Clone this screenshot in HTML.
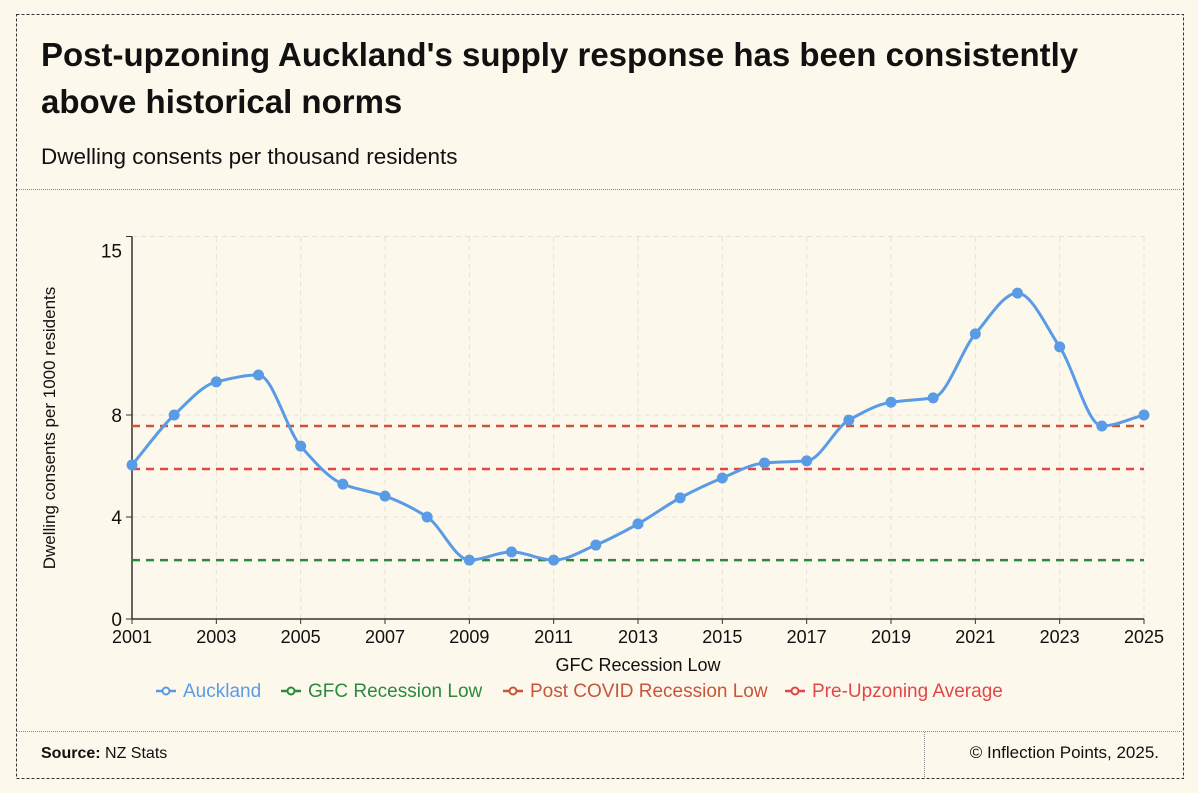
<!DOCTYPE html>
<html><head><meta charset="utf-8"><style>
body{margin:0;background:#fdf8ec;width:1198px;height:793px;overflow:hidden;font-family:"Liberation Sans",sans-serif}
svg{position:absolute;left:0;top:0}
</style></head><body>
<svg id="c" width="1198" height="793"></svg>
<script>
const years=[2001,2002,2003,2004,2005,2006,2007,2008,2009,2010,2011,2012,2013,2014,2015,2016,2017,2018,2019,2020,2021,2022,2023,2024,2025];
const auckland=[6.04,8.0,9.3,9.57,6.78,5.29,4.82,4.0,2.31,2.63,2.31,2.9,3.73,4.75,5.53,6.12,6.2,7.8,8.5,8.67,11.18,12.78,10.67,7.57,8.0];
const yTicks=[0,4,8,15];
const xTickYears=[2001,2003,2005,2007,2009,2011,2013,2015,2017,2019,2021,2023,2025];
const refNames=["GFC Recession Low","Post COVID Recession Low","Pre-Upzoning Average"];
const refValues=[2.31,7.57,5.88];
const refColors=["#2a8a3e","#c8553a","#e04848"];

const NS="http://www.w3.org/2000/svg",svg=document.getElementById('c');
function el(t,a,p){const e=document.createElementNS(NS,t);for(const k in a)e.setAttribute(k,a[k]);(p||svg).appendChild(e);return e;}
const X0=132,X1=1144,Y0=619,YTOP=236.5;
const x=v=>X0+(v-2001)/(2025-2001)*(X1-X0);
const y=v=>Y0-(v/15)*(Y0-YTOP);

let e=el('rect',{x:16.5,y:14.5,width:1167,height:764,fill:'none',stroke:'#333','stroke-dasharray':'3,2'});

el('line',{x1:17,x2:1183,y1:189.5,y2:189.5,stroke:'#888','stroke-dasharray':'1,1'});
el('line',{x1:17,x2:1183,y1:731.5,y2:731.5,stroke:'#888','stroke-dasharray':'1,1'});
el('line',{x1:924.5,x2:924.5,y1:732,y2:778,stroke:'#888','stroke-dasharray':'1,1'});
const tf='"Liberation Sans",sans-serif';
e=el('text',{x:41,y:66,'font-size':33,'font-weight':'bold',fill:'#111','font-family':tf,'letter-spacing':'0'});e.textContent="Post-upzoning Auckland's supply response has been consistently";

e=el('text',{x:41,y:113,'font-size':33,'font-weight':'bold',fill:'#111','font-family':tf});e.textContent="above historical norms";

e=el('text',{x:41,y:164,'font-size':22.5,fill:'#111','font-family':tf});e.textContent="Dwelling consents per thousand residents";

e=el('text',{x:41,y:758,'font-size':16,fill:'#111','font-family':tf});e.innerHTML='<tspan font-weight="bold">Source:</tspan> NZ Stats';

e=el('text',{x:1159,y:758,'font-size':17,fill:'#111','font-family':tf,'text-anchor':'end'});e.textContent="© Inflection Points, 2025.";


xTickYears.forEach(v=>{if(v>2001)el('line',{x1:x(v),x2:x(v),y1:YTOP,y2:Y0,stroke:'#e6e1d8','stroke-dasharray':'5,4'});});
yTicks.forEach(v=>{if(v>0)el('line',{x1:X0,x2:X1,y1:y(v),y2:y(v),stroke:'#e6e1d8','stroke-dasharray':'5,4'});});
e=el('line',{x1:X0,x2:X0,y1:YTOP,y2:Y0,stroke:'#333','stroke-width':1.5});
e=el('line',{x1:X0,x2:X1,y1:Y0,y2:Y0,stroke:'#333','stroke-width':1.5});
yTicks.forEach(v=>{el('line',{x1:X0-6,x2:X0,y1:y(v),y2:y(v),stroke:'#333'});
 const t=el('text',{x:X0-10,y:(v==15?y(v)+14:y(v))+7,'font-size':19,'text-anchor':'end',fill:'#111'});t.textContent=v;
 });
xTickYears.forEach(v=>{el('line',{x1:x(v),x2:x(v),y1:Y0,y2:Y0+5,stroke:'#333'});
 const t=el('text',{x:x(v),y:Y0+24,'font-size':18,'text-anchor':'middle',fill:'#111'});t.textContent=v;
 });
e=el('text',{x:638,y:671,'font-size':18,'text-anchor':'middle',fill:'#111'});e.textContent="GFC Recession Low";

e=el('text',{x:0,y:0,'font-size':17,'text-anchor':'middle',fill:'#111',transform:'translate(55,428) rotate(-90)'});e.textContent="Dwelling consents per 1000 residents";


refValues.forEach((v,i)=>{const l=el('line',{x1:X0,x2:X1,y1:y(v),y2:y(v),stroke:refColors[i],'stroke-width':2.5,'stroke-dasharray':'8,6'});
 });

const px=years.map(x),py=auckland.map(y),n=px.length;
const d=[],m=[];for(let i=0;i<n-1;i++)d.push((py[i+1]-py[i])/(px[i+1]-px[i]));
m[0]=d[0];m[n-1]=d[n-2];
for(let i=1;i<n-1;i++){m[i]=(d[i-1]*d[i]<=0)?0:3*(d[i-1]+d[i])/((2*d[i]+d[i-1])/d[i-1]+(d[i]+2*d[i-1])/d[i]);}
let p='M'+px[0]+','+py[0];
for(let i=0;i<n-1;i++){const h=(px[i+1]-px[i])/3;p+=` C${px[i]+h},${py[i]+m[i]*h} ${px[i+1]-h},${py[i+1]-m[i+1]*h} ${px[i+1]},${py[i+1]}`;}
e=el('path',{d:p,fill:'none',stroke:'#5a9be6','stroke-width':3});

years.forEach((v,i)=>{const c=el('circle',{cx:px[i],cy:py[i],r:5.5,fill:'#5a9be6'});
 });

const legNames=["Auckland"].concat(refNames),legColors=["#5a9be6"].concat(refColors),legX=[156,281,503,785];
legNames.forEach((nm,i)=>{const g=el('g',{});
 
 el('line',{x1:legX[i],x2:legX[i]+20,y1:691,y2:691,stroke:legColors[i],'stroke-width':2.5},g);
 el('circle',{cx:legX[i]+10,cy:691,r:3.5,fill:'#fdf8ec',stroke:legColors[i],'stroke-width':2},g);
 const t=el('text',{x:legX[i]+27,y:697,'font-size':19,fill:legColors[i]},g);t.textContent=nm;});
</script>
</body></html>
